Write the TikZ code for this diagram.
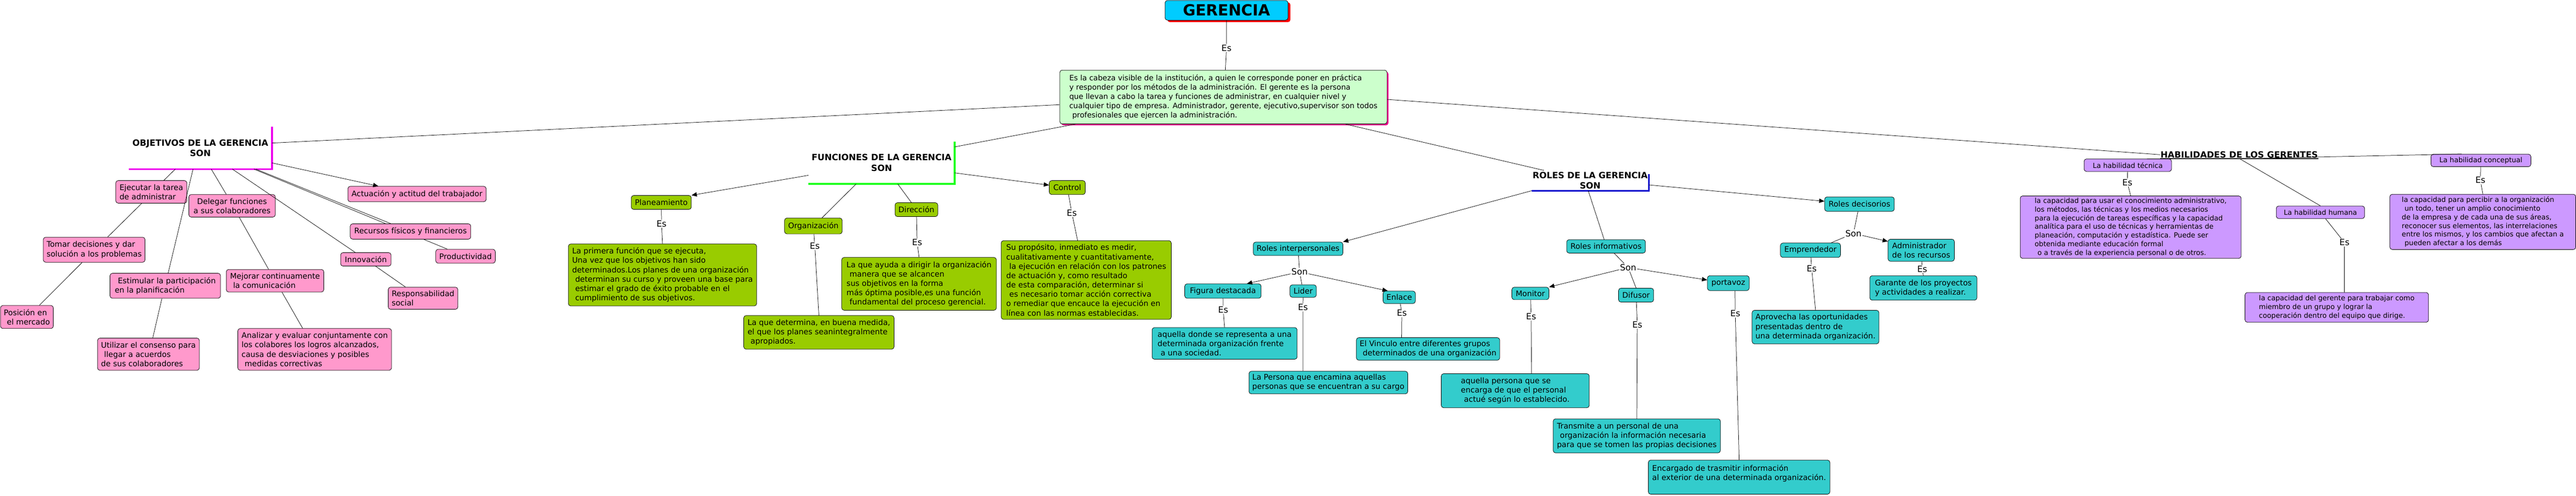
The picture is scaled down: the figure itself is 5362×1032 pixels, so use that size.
\documentclass[tikz,border=0pt]{standalone}
\usepackage{fontspec}
\setmainfont{DejaVu Sans}
\usetikzlibrary{arrows.meta,shadows}
\definecolor{colrosa}{HTML}{FF99CC}
\definecolor{colverde}{HTML}{99CC00}
\definecolor{colturquesa}{HTML}{33CCCC}
\definecolor{collila}{HTML}{CC99FF}
\definecolor{colclaro}{HTML}{CCFFCC}
\definecolor{colceleste}{HTML}{00CCFF}
\definecolor{colmagenta}{HTML}{EE00EE}
\definecolor{collima}{HTML}{22FF22}
\definecolor{colazul}{HTML}{0000CC}
\newcommand\cuerpo{\fontsize{16}{19.5}\selectfont}
\newcommand\ind{\hspace*{0.4em}}
\tikzset{
    caja/.style={draw, line width=0.8pt, rounded corners=5pt, inner xsep=7pt, inner ysep=2pt, align=left, font=\cuerpo},
    objbox/.style={caja, fill=colrosa},
    funbox/.style={caja, fill=colverde},
    rolbox/.style={caja, fill=colturquesa},
    habbox/.style={caja, fill=collila, font=\fontsize{14.5}{18}\selectfont},
    titulo/.style={inner sep=0pt, align=center, font=\fontsize{18}{22}\selectfont\bfseries},
    frase/.style={inner sep=1.5pt, font=\fontsize{18}{20}\selectfont},
    linea/.style={line width=0.8pt},
    flecha/.style={linea, -{Triangle[length=11pt,width=9pt]}}
}
\begin{document}
\begin{tikzpicture}[x=1pt, y=-1pt]
        \useasboundingbox (0,0) rectangle (5362,1032);
        \node[caja, fill=colceleste, minimum width=256pt, minimum height=41pt, align=center,
              font=\fontsize{32}{36}\selectfont\bfseries,
              drop shadow={fill=red, opacity=1, shadow xshift=5pt, shadow yshift=-4pt}] (gerencia) at (2553,21.5) {GERENCIA};
        \node[caja, fill=colclaro, minimum width=681pt, minimum height=112pt, font=\fontsize{15.5}{19.3}\selectfont,
              drop shadow={fill=magenta, opacity=1, shadow xshift=3pt, shadow yshift=-3pt}] (definicion) at (2546.5,202)
              {Es la cabeza visible de la institución, a quien le corresponde poner en práctica\\y responder por los métodos de la administración. El gerente es la persona\\que llevan a cabo la tarea y funciones de administrar, en cualquier nivel y\\cualquier tipo de empresa. Administrador, gerente, ejecutivo,supervisor son todos\\\ind profesionales que ejercen la administración.};
        \node[frase] (esgerencia) at (2553,100) {Es};
        \draw[linea] (gerencia) -- (esgerencia) -- ([xshift=4pt]definicion.north);

        \node[titulo, minimum width=298pt, minimum height=88pt] (objetivos) at (417,308) {OBJETIVOS DE LA GERENCIA\\SON};
        \draw[colmagenta, line width=4pt] (objetivos.south west) -| (objetivos.north east);
        \node[objbox, minimum width=148pt, minimum height=47pt] (ejecutar) at (315,399.5) {Ejecutar la tarea\\de administrar};
        \node[objbox, minimum width=180pt, minimum height=47pt, align=center] (delegar) at (483,428.5) {Delegar funciones\\a sus colaboradores};
        \node[objbox, minimum width=212pt, minimum height=52pt] (tomar) at (196,520) {Tomar decisiones y dar\\solución a los problemas};
        \node[objbox, minimum width=110pt, minimum height=48pt] (posicion) at (56,660) {Posición en\\\ind el mercado};
        \node[objbox, minimum width=230pt, minimum height=52pt] (estimular) at (344,595) {\ind Estimular la participación\\en la planificación};
        \node[objbox, minimum width=212pt, minimum height=67pt] (utilizar) at (309,737.5) {Utilizar el consenso para\\\ind llegar a acuerdos\\de sus colaboradores};
        \node[objbox, minimum width=203pt, minimum height=47pt] (mejorar) at (572.5,584.5) {Mejorar continuamente\\\ind la comunicación};
        \node[objbox, minimum width=320pt, minimum height=87pt] (analizar) at (655,727.5) {Analizar y evaluar conjuntamente con\\los colabores los logros alcanzados,\\causa de desviaciones y posibles\\\ind medidas correctivas};
        \node[objbox, minimum width=288pt, minimum height=32pt] (actuacion) at (868,404) {Actuación y actitud del trabajador};
        \node[objbox, minimum width=251pt, minimum height=32pt] (recursos) at (854.5,482) {Recursos físicos y financieros};
        \node[objbox, minimum width=124pt, minimum height=29pt] (productividad) at (969,533.5) {Productividad};
        \node[objbox, minimum width=105pt, minimum height=28pt] (innovacion) at (761.5,540) {Innovación};
        \node[objbox, minimum width=145pt, minimum height=46pt] (responsabilidad) at (880.5,621) {Responsabilidad\\social};
        \draw[linea] ([yshift=-16pt]definicion.west) -- ([yshift=-34pt]objetivos.north east);
        \draw[linea] ([xshift=97pt]objetivos.south west) -- ([xshift=26pt]ejecutar.north);
        \draw[linea] ([xshift=134pt]objetivos.south west) -- ([xshift=6pt]estimular.north);
        \draw[linea] ([xshift=172pt]objetivos.south west) -- ([xshift=-12pt]delegar.north);
        \draw[linea] ([xshift=216pt]objetivos.south west) -- ([xshift=-22pt]innovacion.north);
        \draw[linea] ([xshift=261pt]objetivos.south west) -- ([xshift=-52pt]recursos.north);
        \draw[linea] ([xshift=265pt]objetivos.south west) -- ([xshift=-41pt]recursos.north);
        \draw[flecha] ([yshift=13pt]objetivos.south east) -- ([xshift=64pt]actuacion.north west);
        \draw[linea] ([xshift=-20pt]ejecutar.south) -- ([xshift=28pt]tomar.north);
        \draw[linea] ([xshift=-25pt]tomar.south) -- ([xshift=26pt]posicion.north);
        \draw[linea] ([xshift=-7pt]estimular.south) -- ([xshift=9pt]utilizar.north);
        \draw[linea] ([xshift=15pt]delegar.south) -- ([xshift=-13.5pt]mejorar.north);
        \draw[linea] ([xshift=14.5pt]mejorar.south) -- ([xshift=-25pt]analizar.north);
        \draw[linea] ([xshift=20.5pt]innovacion.south) -- ([xshift=-36.5pt]responsabilidad.north);
        \draw[linea] ([xshift=27.5pt]recursos.south) -- ([xshift=-38pt]productividad.north);

        \node[titulo, minimum width=304pt, minimum height=88pt] (funciones) at (1835,339) {FUNCIONES DE LA GERENCIA\\SON};
        \draw[collima, line width=4pt] (funciones.south west) -| (funciones.north east);
        \node[funbox, minimum width=125pt, minimum height=29pt] (planeamiento) at (1376.5,421.5) {Planeamiento};
        \node[funbox, minimum width=392pt, minimum height=129pt] (plandesc) at (1379,572.5) {La primera función que se ejecuta,\\Una vez que los objetivos han sido\\determinados.Los planes de una organización\\\ind determinan su curso y proveen una base para\\\ind estimar el grado de éxito probable en el\\\ind cumplimiento de sus objetivos.};
        \node[funbox, minimum width=120pt, minimum height=33pt] (organizacion) at (1693,470.5) {Organización};
        \node[funbox, minimum width=313pt, minimum height=70pt] (orgdesc) at (1704.5,692) {La que determina, en buena medida,\\el que los planes seanintegralmente\\\ind apropiados.};
        \node[funbox, minimum width=89pt, minimum height=29pt] (direccion) at (1907.5,436.5) {Dirección};
        \node[funbox, minimum width=322pt, minimum height=110pt] (dirdesc) at (1913,591) {La que ayuda a dirigir la organización\\\ind manera que se alcancen\\sus objetivos en la forma\\más óptima posible,es una función\\\ind fundamental del proceso gerencial.};
        \node[funbox, minimum width=75pt, minimum height=29pt] (control) at (2221.5,390.5) {Control};
        \node[funbox, minimum width=354pt, minimum height=164pt] (controldesc) at (2261,583) {Su propósito, inmediato es medir,\\cualitativamente y cuantitativamente,\\\ind la ejecución en relación con los patrones\\de actuación y, como resultado\\de esta comparación, determinar si\\\ind es necesario tomar acción correctiva\\o remediar que encauce la ejecución en\\línea con las normas establecidas.};
        \node[frase] (esplan) at (1377,466) {Es};
        \node[frase] (esorg) at (1696,512) {Es};
        \node[frase] (esdir) at (1909,505) {Es};
        \node[frase] (escontrol) at (2231,443) {Es};
        \draw[linea] ([xshift=33pt]definicion.south west) -- ([yshift=-11pt]funciones.north east);
        \draw[flecha] ([yshift=-26pt]funciones.west) -- (planeamiento.north east);
        \draw[linea] ([xshift=99pt]funciones.south west) -- ([xshift=18pt]organizacion.north);
        \draw[linea] ([xshift=186pt]funciones.south west) -- ([xshift=-10.5pt]direccion.north);
        \draw[flecha] ([yshift=-21pt]funciones.east) -- ([yshift=5pt]control.west);
        \draw[linea] (planeamiento) -- (esplan) -- (plandesc.north);
        \draw[linea] (organizacion) -- (esorg) -- (orgdesc.north);
        \draw[linea] (direccion) -- (esdir) -- (dirdesc.north);
        \draw[linea] (control) -- (escontrol) -- ([xshift=-18pt]controldesc.north);

        \node[titulo, minimum width=244pt, minimum height=42pt] (roles) at (3310,376) {ROLES DE LA GERENCIA\\SON};
        \draw[colazul, line width=4pt] (roles.south west) -| ([yshift=-8pt]roles.north east);
        \node[rolbox, minimum width=176pt, minimum height=28pt] (interpersonales) at (2702,518) {Roles interpersonales};
        \node[rolbox, minimum width=159pt, minimum height=30pt] (figura) at (2545.5,606) {Figura destacada};
        \node[rolbox, minimum width=55pt, minimum height=26pt] (lider) at (2712.5,606) {Lider};
        \node[rolbox, minimum width=65pt, minimum height=26pt] (enlace) at (2912.5,619) {Enlace};
        \node[rolbox, minimum width=302pt, minimum height=66pt] (figuradesc) at (2549,715) {aquella donde se representa a una\\determinada organización frente\\\ind a una sociedad.};
        \node[rolbox, minimum width=330pt, minimum height=47pt] (liderdesc) at (2765,796.5) {La Persona que encamina aquellas\\personas que se encuentran a su cargo};
        \node[rolbox, minimum width=295pt, minimum height=47pt] (enlacedesc) at (2972.5,726.5) {El Vinculo entre diferentes grupos\\\ind determinados de una organización};
        \node[rolbox, minimum width=164pt, minimum height=28pt] (informativos) at (3343,513) {Roles informativos};
        \node[rolbox, minimum width=77pt, minimum height=26pt] (monitor) at (3185.5,611) {Monitor};
        \node[rolbox, minimum width=73pt, minimum height=29pt] (difusor) at (3405.5,614.5) {Difusor};
        \node[rolbox, minimum width=87pt, minimum height=31pt] (portavoz) at (3597.5,589.5) {portavoz};
        \node[rolbox, minimum width=308pt, minimum height=71pt] (monitordesc) at (3154,813.5) {aquella persona que se\\encarga de que el personal\\\ind actué según lo establecido.};
        \node[rolbox, minimum width=348pt, minimum height=71pt] (difusordesc) at (3407,907.5) {Transmite a un personal de una\\\ind organización la información necesaria\\para que se tomen las propias decisiones};
        \node[rolbox, minimum width=378pt, minimum height=71pt] (portavozdesc) at (3620,993.5) {Encargado de trasmitir información\\al exterior de una determinada organización.\\\mbox{}};
        \node[rolbox, minimum width=145pt, minimum height=30pt] (decisorios) at (3870.5,425) {Roles decisorios};
        \node[rolbox, minimum width=125pt, minimum height=30pt] (emprendedor) at (3768.5,521) {Emprendedor};
        \node[rolbox, minimum width=138pt, minimum height=46pt] (administrador) at (3999,521) {Administrador\\de los recursos};
        \node[rolbox, minimum width=264pt, minimum height=70pt] (aprovecha) at (3779,681) {Aprovecha las oportunidades\\presentadas dentro de\\una determinada organización.};
        \node[rolbox, minimum width=223pt, minimum height=51pt] (garante) at (4003.5,599.5) {Garante de los proyectos\\y actividades a realizar.};
        \node[frase] (soninter) at (2705,566) {Son};
        \node[frase] (soninfo) at (3389,557) {Son};
        \node[frase] (sondeci) at (3858,486) {Son};
        \node[frase] (esfigura) at (2546,645) {Es};
        \node[frase] (eslider) at (2712,640) {Es};
        \node[frase] (esenlace) at (2918,652) {Es};
        \node[frase] (esmonitor) at (3187,659) {Es};
        \node[frase] (esdifusor) at (3408,676) {Es};
        \node[frase] (esportavoz) at (3612,653) {Es};
        \node[frase] (esempr) at (3771,559) {Es};
        \node[frase] (esadmin) at (4001,560) {Es};
        \draw[linea] ([xshift=-87pt]definicion.south east) -- ([xshift=26pt]roles.north west);
        \draw[flecha] (roles.south west) -- (interpersonales.north east);
        \draw[linea] ([xshift=-4pt]roles.south) -- ([xshift=-4pt]informativos.north);
        \draw[flecha] ([yshift=-9pt]roles.east) -- ([yshift=6pt]decisorios.west);
        \draw[linea] (interpersonales) -- (soninter);
        \draw[flecha] (soninter) -- ([xshift=-30pt]figura.north east);
        \draw[linea] (soninter) -- (lider);
        \draw[flecha] (soninter) -- ([xshift=10pt]enlace.north west);
        \draw[linea] (figura) -- (esfigura) -- (figuradesc.north);
        \draw[linea] (lider) -- (eslider) -- ([xshift=-53pt]liderdesc.north);
        \draw[linea] (enlace) -- (esenlace) -- ([xshift=-55pt]enlacedesc.north);
        \draw[linea] ([xshift=17pt]informativos.south) -- (soninfo);
        \draw[flecha] (soninfo) -- (monitor.north east);
        \draw[linea] (soninfo) -- (difusor.north);
        \draw[flecha] (soninfo) -- ([yshift=6.5pt]portavoz.west);
        \draw[linea] (monitor) -- (esmonitor) -- ([xshift=34pt]monitordesc.north);
        \draw[linea] (difusor) -- (esdifusor) -- (difusordesc.north);
        \draw[linea] ([xshift=14pt]portavoz.south) -- (esportavoz) -- (portavozdesc.north);
        \draw[linea] (decisorios) -- (sondeci);
        \draw[linea] (sondeci) -- ([xshift=-20pt]emprendedor.north east);
        \draw[flecha] (sondeci) -- ([yshift=-5pt]administrador.north west);
        \draw[linea] (emprendedor) -- (esempr) -- (aprovecha.north);
        \draw[linea] (administrador) -- (esadmin) -- (garante.north);

        \node[titulo, inner sep=1pt] (habilidades) at (4661,322) {HABILIDADES DE LOS GERENTES};
        \draw[line width=2pt] (habilidades.south west) -- (habilidades.south east);
        \node[habbox, minimum width=182pt, minimum height=26pt] (tecnica) at (4429,344) {La habilidad técnica};
        \node[habbox, minimum width=184pt, minimum height=26pt] (humana) at (4830,442) {La habilidad humana};
        \node[habbox, minimum width=208pt, minimum height=26pt] (conceptual) at (5164,334) {La habilidad conceptual};
        \node[habbox, minimum width=460pt, minimum height=130pt] (tecnicadesc) at (4435,473) {la capacidad para usar el conocimiento administrativo,\\los métodos, las técnicas y los medios necesarios\\para la ejecución de tareas específicas y la capacidad\\analítica para el uso de técnicas y herramientas de\\planeación, computación y estadística. Puede ser\\obtenida mediante educación formal\\\ind o a través de la experiencia personal o de otros.};
        \node[habbox, minimum width=382pt, minimum height=62pt] (humanadesc) at (4864,640) {la capacidad del gerente para trabajar como\\miembro de un grupo y lograr la\\cooperación dentro del equipo que dirige.};
        \node[habbox, minimum width=387pt, minimum height=115pt] (conceptualdesc) at (5168,462) {la capacidad para percibir a la organización\\\ind un todo, tener un amplio conocimiento\\de la empresa y de cada una de sus áreas,\\reconocer sus elementos, las interrelaciones\\entre los mismos, y los cambios que afectan a\\\ind pueden afectar a los demás};
        \node[frase] (estecnica) at (4428,380) {Es};
        \node[frase] (eshumana) at (4880,505) {Es};
        \node[frase] (esconceptual) at (5163,375) {Es};
        \draw[linea] ([yshift=-5pt]definicion.east) -- (habilidades.west);
        \draw[linea] ([xshift=-20pt]habilidades.south) -- ([xshift=40pt]tecnica.north);
        \draw[linea] (habilidades.south) -- (humana.north);
        \draw[linea] ([xshift=20pt]habilidades.south) -- ([xshift=-40pt]conceptual.north);
        \draw[linea] (tecnica) -- (estecnica) -- (tecnicadesc.north);
        \draw[linea] (humana) -- (eshumana) -- ([xshift=16pt]humanadesc.north);
        \draw[linea] (conceptual) -- (esconceptual) -- (conceptualdesc.north);
\end{tikzpicture}
\end{document}
